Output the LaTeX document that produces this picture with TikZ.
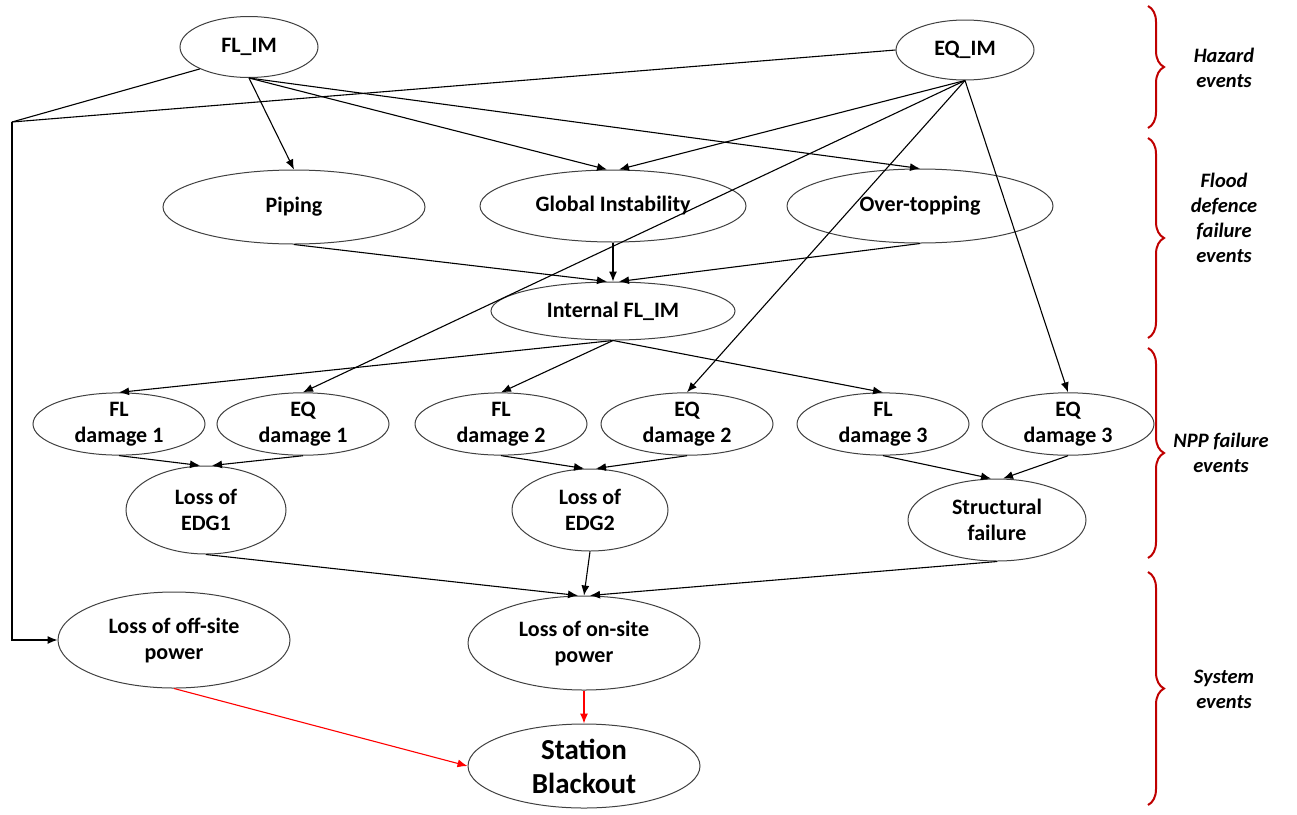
\documentclass[tikz,border=0pt]{standalone}
\usepackage{fontspec}
\setmainfont{Carlito}
\usetikzlibrary{shapes.geometric,arrows.meta,decorations.pathreplacing}

\begin{document}
\begin{tikzpicture}[x=1pt,y=-1pt]
            \tikzstyle{ev}=[ellipse,draw=black!75,line width=1pt,inner sep=0pt,align=center,font=\fontsize{22}{26}\selectfont\bfseries]
            \tikzstyle{dmg}=[ev,minimum width=172pt,minimum height=62pt]
            \tikzstyle{link}=[line width=1.1pt,-{Latex[length=10pt,width=8pt]}]
            \tikzstyle{redlink}=[link,red]
            \tikzstyle{grp}=[decorate,decoration={brace,amplitude=16pt},draw=red!75!black,line width=2pt]
            \tikzstyle{grplabel}=[align=center,font=\fontsize{20.5}{25}\selectfont\bfseries\itshape]
            \useasboundingbox (0,0) rectangle (1297,814);
            % hazard events
            \node[ev,minimum width=138pt,minimum height=61pt] (flim) at (249,47) {FL\_IM};
            \node[ev,minimum width=138pt,minimum height=60pt] (eqim) at (965,50) {EQ\_IM};
            % flood defence failure events
            \node[ev,minimum width=262pt,minimum height=74pt] (piping) at (294,207) {Piping};
            \node[ev,minimum width=266pt,minimum height=72pt] (globinst) at (613,206) {Global Instability};
            \node[ev,minimum width=266pt,minimum height=74pt] (overtop) at (920,206) {Over-topping};
            \node[ev,minimum width=244pt,minimum height=58pt] (intflim) at (613,311) {Internal FL\_IM};
            % NPP failure events
            \node[dmg] (fld1) at (119,424) {FL\\damage 1};
            \node[dmg] (eqd1) at (303,424) {EQ\\damage 1};
            \node[dmg] (fld2) at (501,424) {FL\\damage 2};
            \node[dmg] (eqd2) at (687,424) {EQ\\damage 2};
            \node[dmg] (fld3) at (883,424) {FL\\damage 3};
            \node[dmg] (eqd3) at (1068,424) {EQ\\damage 3};
            \node[ev,minimum width=160pt,minimum height=88pt] (edg1) at (206,510) {Loss of\\EDG1};
            \node[ev,minimum width=156pt,minimum height=82pt] (edg2) at (590,510) {Loss of\\EDG2};
            \node[ev,minimum width=178pt,minimum height=82pt] (strfail) at (997,520) {Structural\\failure};
            % system events
            \node[ev,minimum width=232pt,minimum height=96pt] (offsite) at (174,640) {Loss of off-site\\power};
            \node[ev,minimum width=232pt,minimum height=94pt] (onsite) at (584,643) {Loss of on-site\\power};
            \node[ev,minimum width=232pt,minimum height=84pt,font=\fontsize{29}{34}\selectfont\bfseries] (sbo) at (584,766) {Station\\Blackout};
            \coordinate (jct) at (12,122);
            % connectors
            \draw[line width=1.1pt] (flim.south west) -- (jct);
            \draw[line width=1.1pt] (eqim.west) -- (jct);
            \draw[link] (jct) |- (offsite.west);
            \draw[link] (flim.south) -- (piping.north);
            \draw[link] (flim.south) -- ([xshift=-6pt]globinst.north);
            \draw[link] (flim.south) -- (overtop.north);
            \draw[link] (eqim.south) -- ([xshift=6pt]globinst.north);
            \draw[link] (eqim.south) -- (eqd1.north);
            \draw[link] (eqim.south) -- (eqd2.north);
            \draw[link] (eqim.south) -- (eqd3.north);
            \draw[link] (piping.south) -- ([xshift=-6pt]intflim.north);
            \draw[link] (globinst.south) -- (intflim.north);
            \draw[link] (overtop.south) -- ([xshift=6pt]intflim.north);
            \draw[link] (intflim.south) -- (fld1.north);
            \draw[link] (intflim.south) -- (fld2.north);
            \draw[link] (intflim.south) -- (fld3.north);
            \draw[link] (fld1.south) -- ([xshift=-6pt]edg1.north);
            \draw[link] (eqd1.south) -- ([xshift=6pt]edg1.north);
            \draw[link] (fld2.south) -- ([xshift=-6pt]edg2.north);
            \draw[link] (eqd2.south) -- ([xshift=6pt]edg2.north);
            \draw[link] (fld3.south) -- ([xshift=-6pt]strfail.north);
            \draw[link] (eqd3.south) -- ([xshift=6pt]strfail.north);
            \draw[link] (edg1.south) -- ([xshift=-6pt]onsite.north);
            \draw[link] (edg2.south) -- (onsite.north);
            \draw[link] (strfail.south) -- ([xshift=6pt]onsite.north);
            \draw[redlink] (offsite.south) -- (sbo.west);
            \draw[redlink] (onsite.south) -- (sbo.north);
            % event groups
            \draw[grp] (1148,6) -- (1148,128);
            \draw[grp] (1148,138) -- (1148,338);
            \draw[grp] (1148,348) -- (1148,558);
            \draw[grp] (1148,572) -- (1148,805);
            \node[grplabel] (hazlbl) at (1224,68) {Hazard\\events};
            \node[grplabel] (fdlbl) at (1224,218) {Flood\\defence\\failure\\events};
            \node[grplabel] (npplbl) at (1221,453) {NPP failure\\events};
            \node[grplabel] (syslbl) at (1224,689) {System\\events};
        \end{tikzpicture}
\end{document}
